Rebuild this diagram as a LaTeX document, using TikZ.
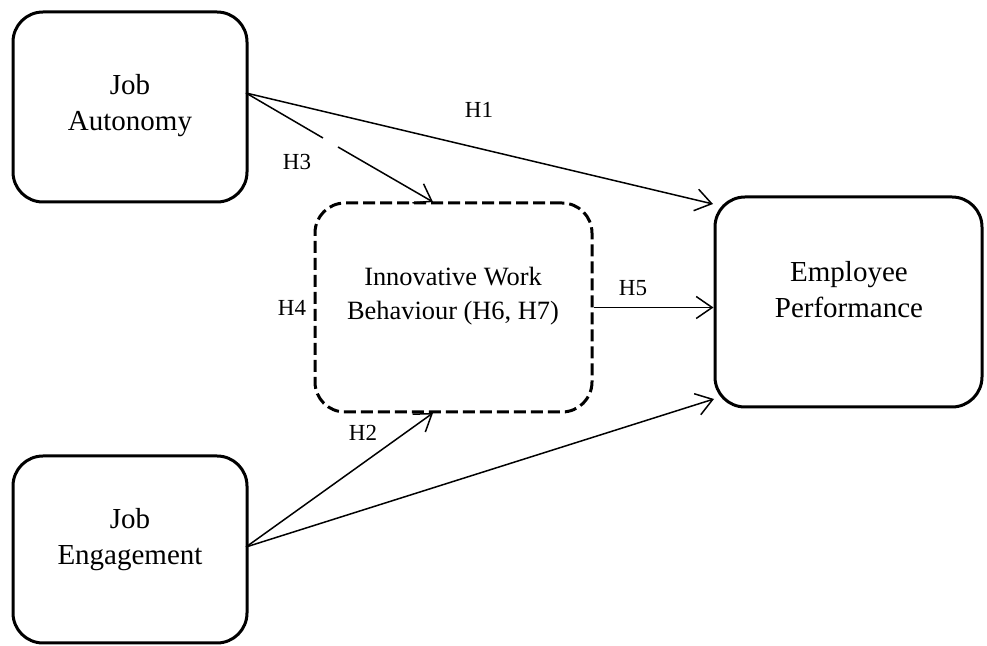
\documentclass[tikz,border=0pt]{standalone}
\usepackage{fontspec}
\setmainfont{Liberation Serif}
\usetikzlibrary{arrows.meta}

\tikzset{
  construct/.style={draw,line width=1.5pt,rounded corners=15pt,inner sep=0pt},
  mediator/.style={construct,dash pattern=on 6pt off 2.5pt},
  boxtext/.style={align=center,font=\fontsize{14.5}{18}\selectfont},
  hyp/.style={font=\fontsize{11.5}{13}\selectfont},
  link/.style={line width=0.75pt},
  linkto/.style={link,-{Straight Barb[length=8pt,width=11pt]}}
}

\begin{document}
\begin{tikzpicture}[x=0.5pt,y=-0.5pt]
  \useasboundingbox (0,0) rectangle (987,646);
  % constructs
  \node[construct,minimum width=117pt,minimum height=95pt] (ja) at (130,107) {};
  \node[construct,minimum width=117pt,minimum height=93.5pt] (je) at (130,549.5) {};
  \node[mediator,minimum width=138.5pt,minimum height=104.5pt] (iwb) at (453.5,307.5) {};
  \node[construct,minimum width=133.5pt,minimum height=105pt] (ep) at (848.5,302) {};
  \node[boxtext] (jat) at (130,106) {Job\\Autonomy};
  \node[boxtext] (jet) at (130,540) {Job\\Engagement};
  \node[boxtext,font=\fontsize{13.2}{17}\selectfont] (iwbt) at (453,296) {Innovative Work\\Behaviour (H6, H7)};
  \node[boxtext] (ept) at (849,290) {Employee\\Performance};
  % end points of the paths
  \coordinate (jaout) at (246,93);
  \coordinate (jeout) at (246,547);
  \coordinate (h1in) at (713,204);
  \coordinate (h3in) at (433,202);
  \coordinate (h3gapa) at (323,138);
  \coordinate (h3gapb) at (338,147);
  \coordinate (h2in) at (433,413);
  \coordinate (jepin) at (714,399);
  % paths
  \draw[linkto] (jaout) -- (h1in);
  \draw[link] (jaout) -- (h3gapa);
  \draw[linkto] (h3gapb) -- (h3in);
  \draw[linkto] (iwb.east) -- (iwb.east -| ep.west);
  \draw[linkto] (jeout) -- (h2in);
  \draw[linkto] (jeout) -- (jepin);
  % hypotheses
  \node[hyp] (h1) at (479,110) {H1};
  \node[hyp] (h2) at (363,433) {H2};
  \node[hyp] (h3) at (297,162) {H3};
  \node[hyp] (h4) at (292,308) {H4};
  \node[hyp] (h5) at (633,288) {H5};
\end{tikzpicture}
\end{document}
